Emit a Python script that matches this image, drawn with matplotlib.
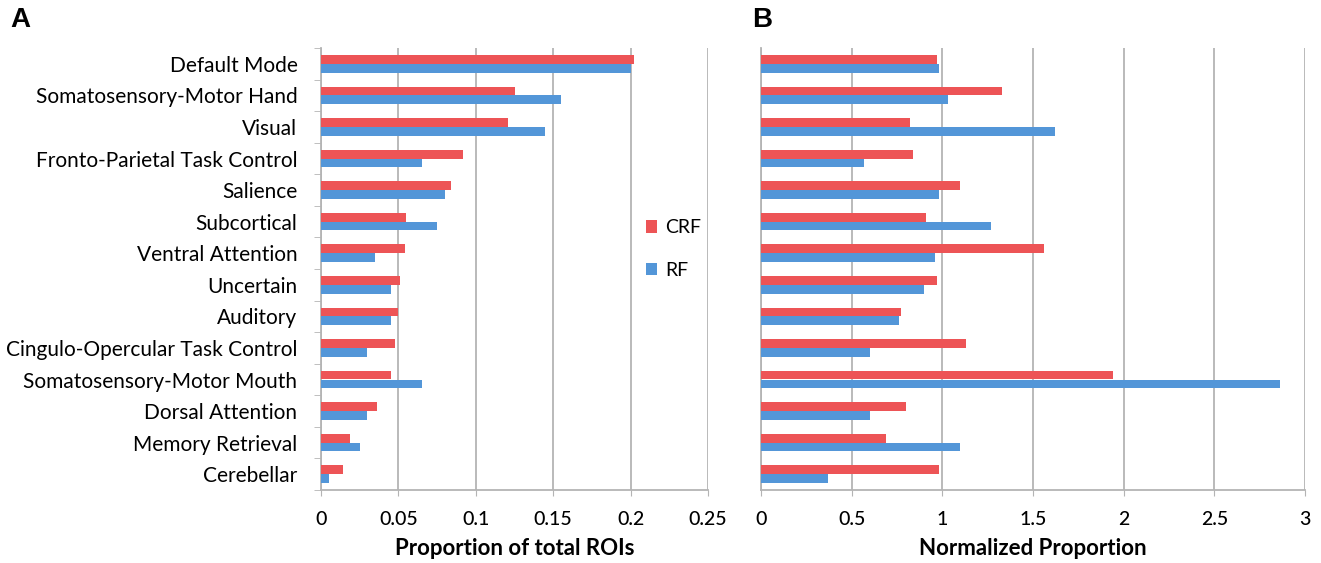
import matplotlib.pyplot as plt
import numpy as np

plt.rcParams['font.family'] = ['Lato', 'DejaVu Sans']

networks = ["Default Mode", "Somatosensory-Motor Hand", "Visual",
            "Fronto-Parietal Task Control", "Salience", "Subcortical",
            "Ventral Attention", "Uncertain", "Auditory",
            "Cingulo-Opercular Task Control", "Somatosensory-Motor Mouth",
            "Dorsal Attention", "Memory Retrieval", "Cerebellar"]

# proportion of total ROIs
crf_prop = [0.202, 0.125, 0.121, 0.092, 0.084, 0.055, 0.054,
            0.051, 0.050, 0.048, 0.045, 0.036, 0.0185, 0.014]
rf_prop = [0.200, 0.155, 0.145, 0.065, 0.080, 0.075, 0.035,
           0.045, 0.045, 0.030, 0.065, 0.030, 0.025, 0.005]

# normalized proportion
crf_norm = [0.97, 1.33, 0.82, 0.84, 1.10, 0.91, 1.56,
            0.97, 0.77, 1.13, 1.94, 0.80, 0.69, 0.98]
rf_norm = [0.98, 1.03, 1.62, 0.57, 0.98, 1.27, 0.96,
           0.90, 0.76, 0.60, 2.86, 0.60, 1.10, 0.37]

red = '#ED5456'
blue = '#5396D8'
grid_c = '#B4B4B4'

W, H = 1321, 563
fig = plt.figure(figsize=(W / 100, H / 100), dpi=100)


def px_axes(x0, x1, y0, y1):
    return fig.add_axes([x0 / W, 1 - y1 / H, (x1 - x0) / W, (y1 - y0) / H])


def draw(ax, crf, rf, xmax, ticks, ticklabels, xlabel, show_names):
    y = np.arange(len(networks))
    h = 0.28
    ax.barh(y - h / 2, crf, height=h, color=red, label='CRF', zorder=3)
    ax.barh(y + h / 2, rf, height=h, color=blue, label='RF', zorder=3)
    ax.set_ylim(len(networks) - 0.5, -0.5)
    ax.set_xlim(0, xmax)
    ax.set_xticks(ticks)
    ax.set_xticklabels(ticklabels, fontsize=14, fontweight='medium')
    ax.grid(axis='x', color=grid_c, linewidth=1.3, zorder=0)
    for s in ['top', 'right']:
        ax.spines[s].set_visible(False)
    for s in ['left', 'bottom']:
        ax.spines[s].set_color(grid_c)
        ax.spines[s].set_linewidth(1.3)
    ax.tick_params(axis='x', length=4, color=grid_c, pad=11)
    ax.set_xlabel(xlabel, fontsize=16, fontweight='bold', labelpad=7)
    if show_names:
        ax.set_yticks(y)
        ax.set_yticklabels(networks, fontsize=15)
        ax.set_yticks(np.arange(len(networks) + 1) - 0.5, minor=True)
        ax.tick_params(axis='y', which='major', length=0, pad=17)
        ax.tick_params(axis='y', which='minor', length=5, color=grid_c)
    else:
        ax.set_yticks([])


axA = px_axes(321, 708, 48, 490)
draw(axA, crf_prop, rf_prop, 0.25, [0, 0.05, 0.1, 0.15, 0.2, 0.25],
     ['0', '0.05', '0.1', '0.15', '0.2', '0.25'],
     'Proportion of total ROIs', True)

axB = px_axes(761, 1305, 48, 490)
draw(axB, crf_norm, rf_norm, 3, [0, 0.5, 1, 1.5, 2, 2.5, 3],
     ['0', '0.5', '1', '1.5', '2', '2.5', '3'],
     'Normalized Proportion', False)

handles, labels = axA.get_legend_handles_labels()
fig.legend(handles, labels, loc='upper left',
           bbox_to_anchor=(628 / W, 1 - 202 / H),
           frameon=False, fontsize=14, handlelength=0.6, handleheight=0.6,
           labelspacing=1.3, handletextpad=0.4)

fig.text(10 / W, 1 - 20 / H, 'A', fontsize=20, fontweight='bold',
         family='Liberation Sans', va='center')
fig.text(752 / W, 1 - 20 / H, 'B', fontsize=20, fontweight='bold',
         family='Liberation Sans', va='center')

fig.savefig('out.png', dpi=100)
